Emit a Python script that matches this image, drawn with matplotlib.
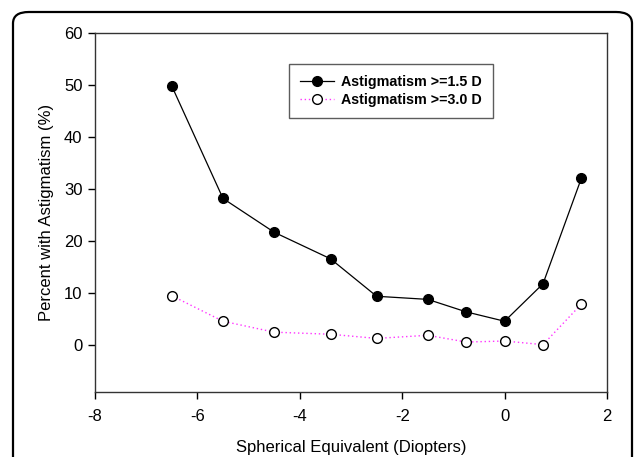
#!/usr/bin/env python3
import matplotlib
matplotlib.use("Agg")
import matplotlib.pyplot as plt
from matplotlib.patches import FancyBboxPatch

# Spherical equivalent (D) and percent with astigmatism
sph_eq = [-6.5, -5.5, -4.5, -3.4, -2.5, -1.5, -0.75, 0.0, 0.75, 1.5]
astig_15 = [49.8, 28.2, 21.7, 16.6, 9.4, 8.8, 6.4, 4.6, 11.8, 32.1]
astig_30 = [9.5, 4.6, 2.5, 2.1, 1.3, 1.9, 0.6, 0.8, 0.1, 7.9]

x_ticks = [-8, -6, -4, -2, 0, 2]
y_ticks = [0, 10, 20, 30, 40, 50, 60]

plt.rcParams["font.family"] = ["Liberation Sans", "DejaVu Sans"]
plt.rcParams["axes.unicode_minus"] = False

W, H = 634, 457
fig = plt.figure(figsize=(W / 100, H / 100), dpi=100)

# rounded outer frame, runs off the bottom of the image
frame = FancyBboxPatch((13 / W, -0.1), (632 - 13) / W, (H - 12) / H + 0.1,
                       boxstyle="round,pad=0,rounding_size=0.025",
                       transform=fig.transFigure, fill=False,
                       edgecolor="black", linewidth=1.6, clip_on=False)
fig.patches.append(frame)

ax = fig.add_axes([95 / W, 1 - 392 / H, (607 - 95) / W, (392 - 33) / H])

ax.plot(sph_eq, astig_15, color="black", linewidth=0.9, marker="o",
        markersize=7, markerfacecolor="black", markeredgecolor="black",
        label="Astigmatism >=1.5 D")
ax.plot(sph_eq, astig_30, color="#ff33ff", linewidth=1.0, linestyle=(0, (1, 2)),
        marker="o", markersize=7, markerfacecolor="white",
        markeredgecolor="black", markeredgewidth=1.0,
        label="Astigmatism >=3.0 D")

ax.set_xlim(-8, 2)
ax.set_ylim(-9, 60)
ax.set_xticks(x_ticks)
ax.set_yticks(y_ticks)
ax.tick_params(direction="out", length=5, width=1, labelsize=12)
ax.tick_params(axis="x", pad=7)
ax.tick_params(axis="y", pad=4)
for s in ax.spines.values():
    s.set_linewidth(1.0)
    s.set_color("#333333")

ax.set_xlabel("Spherical Equivalent (Diopters)", fontsize=12, labelpad=12)
ax.set_ylabel("Percent with Astigmatism (%)", fontsize=12, labelpad=7)

leg = ax.legend(loc="upper left", bbox_to_anchor=((289 - 95) / (607 - 95), 1 - (64 - 33) / (392 - 33)),
                borderaxespad=0, frameon=True, fancybox=False, edgecolor="#333333",
                prop={"weight": "bold", "size": 10.3}, handlelength=2.4,
                borderpad=0.75, labelspacing=0.3, handletextpad=0.5)
leg.get_frame().set_linewidth(1.0)

fig.savefig("out.png", dpi=100)
